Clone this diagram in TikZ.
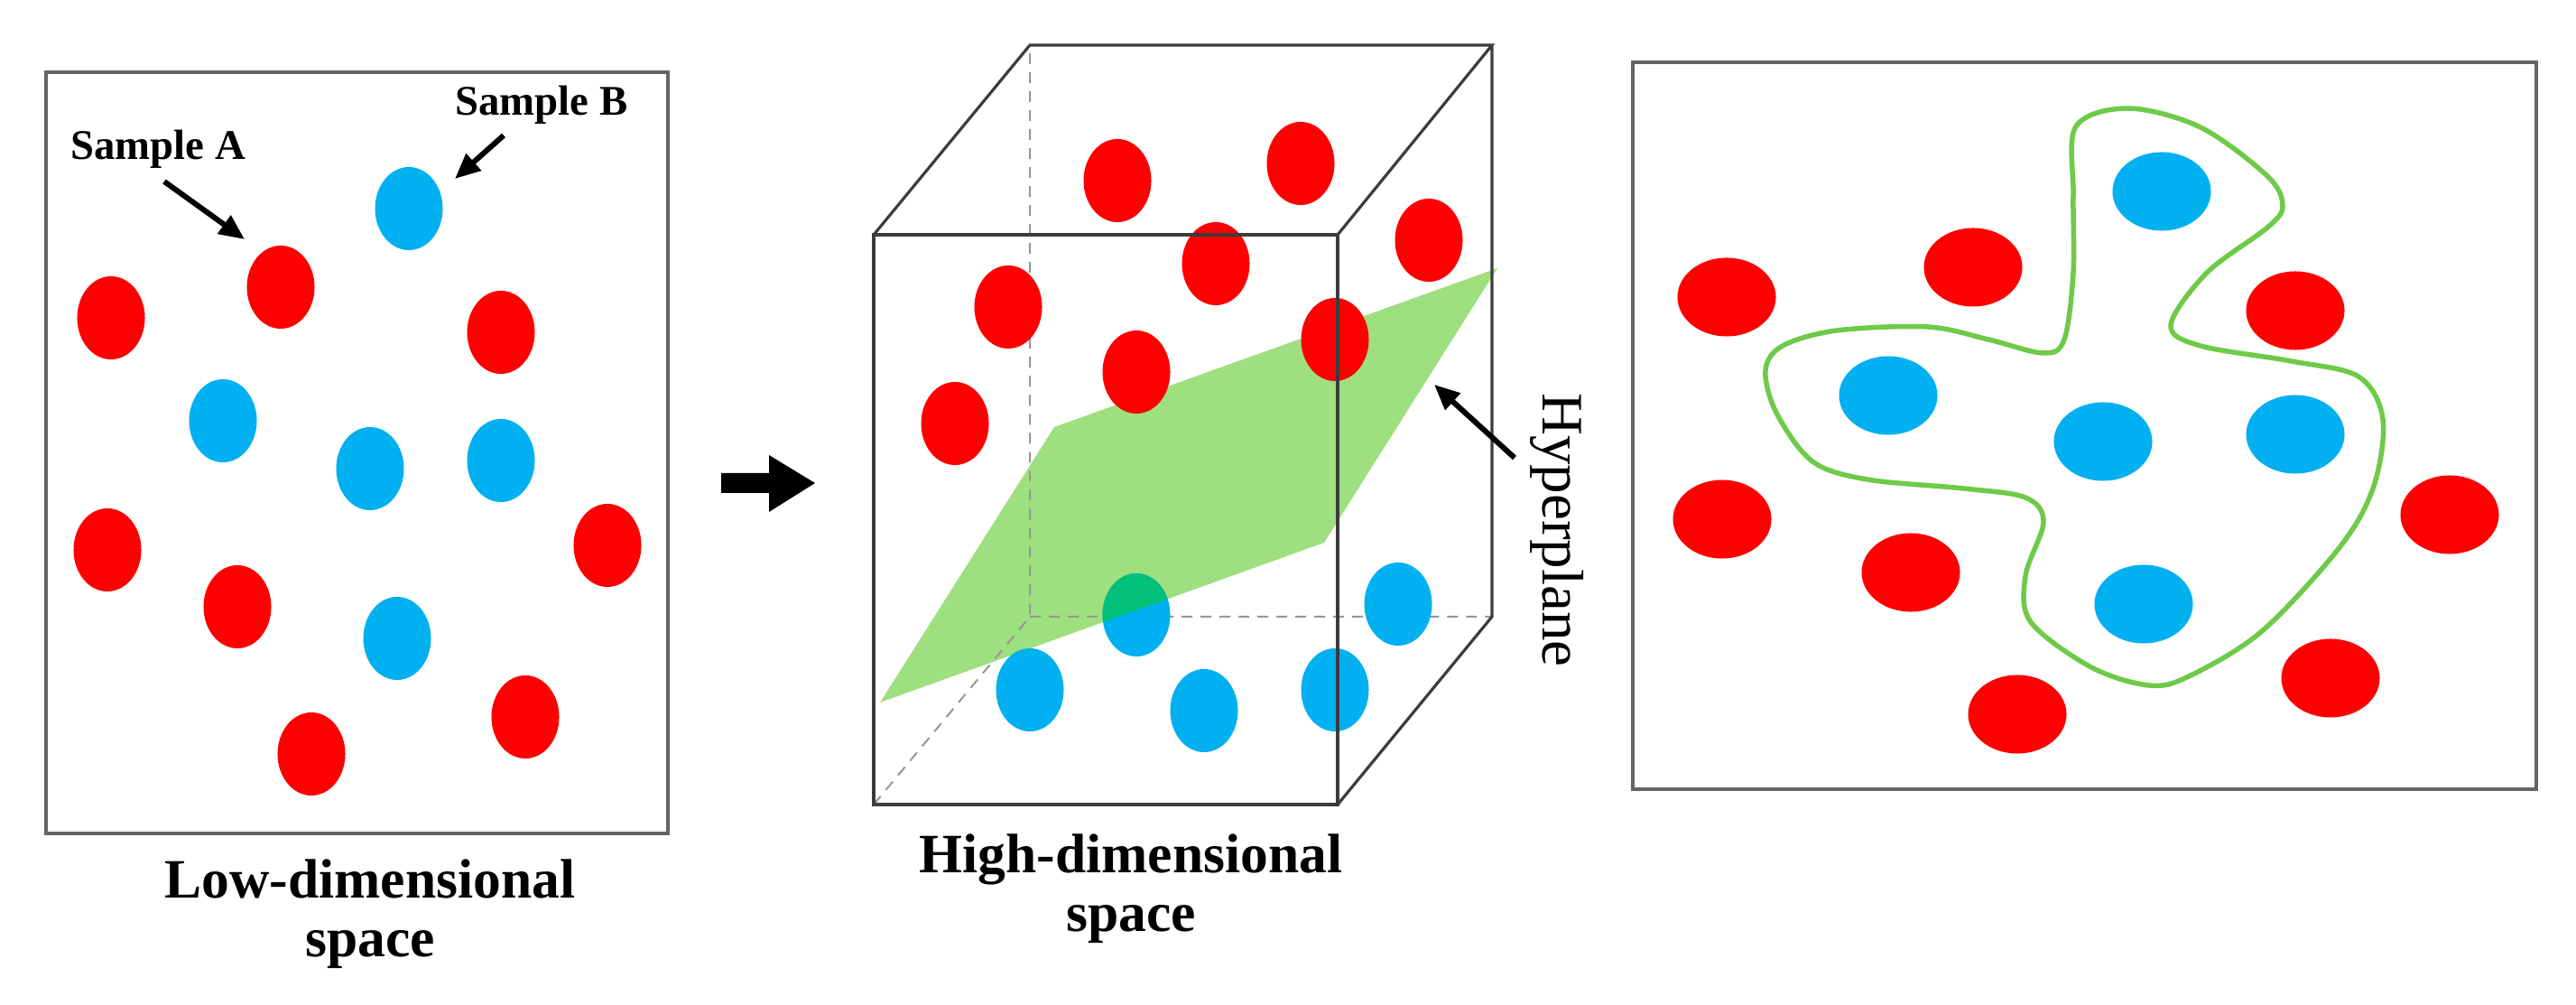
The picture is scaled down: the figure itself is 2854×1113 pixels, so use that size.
\documentclass[tikz,border=0pt]{standalone}
\usepackage{fontspec}
\setmainfont{Liberation Serif}
\usetikzlibrary{shapes.geometric,arrows.meta}

\definecolor{ptred}{RGB}{255,0,0}
\definecolor{ptblue}{RGB}{0,176,240}
\definecolor{planegreen}{RGB}{158,223,127}
\definecolor{overlapgreen}{RGB}{0,192,122}
\definecolor{curvegreen}{RGB}{110,202,72}
\definecolor{framegray}{RGB}{100,100,100}
\definecolor{edgegray}{RGB}{60,60,60}
\definecolor{hiddengray}{RGB}{150,150,150}

\tikzset{
  ptshape/.style={shape=ellipse,inner sep=0pt,minimum width=0.75cm,minimum height=0.92cm},
  redpt/.style={ptshape,fill=ptred},
  bluept/.style={ptshape,fill=ptblue},
  flatpt/.style={minimum width=1.09cm,minimum height=0.87cm},
  ptr/.style={-{Triangle[length=0.28cm,width=0.24cm]},line width=0.06cm},
  panelframe/.style={draw=framegray,line width=0.045cm},
  cubeedge/.style={draw=edgegray,line width=0.032cm},
  hiddenedge/.style={draw=hiddengray,line width=0.02cm,dash pattern=on 0.12cm off 0.09cm},
  spacelabel/.style={font=\bfseries\fontsize{17.5}{18.5}\selectfont,align=center,inner sep=0pt,anchor=north},
  samplelabel/.style={font=\bfseries\fontsize{13.3}{16}\selectfont,inner sep=0pt,anchor=base}
}

\begin{document}
\begin{tikzpicture}[x=0.01cm,y=-0.01cm]
\useasboundingbox (0,0) rectangle (2854,1113);

% low-dimensional space
\draw[panelframe] (51,80) rectangle (740,923);
\node[redpt] (la1) at (123,352) {};
\node[redpt] (la2) at (311,318) {};
\node[redpt] (la3) at (555,368) {};
\node[redpt] (la4) at (119,609) {};
\node[redpt] (la5) at (263,672) {};
\node[redpt] (la6) at (673,604) {};
\node[redpt] (la7) at (345,835) {};
\node[redpt] (la8) at (582,794) {};
\node[bluept] (lb1) at (453,231) {};
\node[bluept] (lb2) at (247,466) {};
\node[bluept] (lb3) at (410,519) {};
\node[bluept] (lb4) at (555,510) {};
\node[bluept] (lb5) at (440,707) {};
\node[samplelabel] (labA) at (175,177) {Sample A};
\node[samplelabel] (labB) at (600,128) {Sample B};
\coordinate (tailA) at (182,201);
\coordinate (tipA) at (271,265);
\coordinate (tailB) at (558,150);
\coordinate (tipB) at (504,198);
\draw[ptr] (tailA) -- (tipA);
\draw[ptr] (tailB) -- (tipB);
\node[spacelabel] (low) at (410,951) {Low-dimensional\\space};

\fill (799,524) -- (852,524) -- (852,504) -- (903,535) -- (852,567) -- (852,546) -- (799,546) -- cycle;

% high-dimensional space
\coordinate (f1) at (968,260);
\coordinate (f2) at (1482,260);
\coordinate (f3) at (1482,891);
\coordinate (f4) at (968,891);
\coordinate (b1) at (1141,50);
\coordinate (b2) at (1653,50);
\coordinate (b3) at (1653,683);
\coordinate (b4) at (1141,683);
\coordinate (p1) at (975,778);
\coordinate (p2) at (1168,473);
\coordinate (p3) at (1659,297);
\coordinate (p4) at (1467,601);
\fill[planegreen] (p1) -- (p2) -- (p3) -- (p4) -- cycle;
\draw[hiddenedge] (f4) -- (b4) -- (b1) (b4) -- (b3);
\node[bluept] (hb1) at (1259,681) {};
\node[bluept] (hb2) at (1549,669) {};
\node[bluept] (hb3) at (1141,764) {};
\node[bluept] (hb4) at (1334,787) {};
\node[bluept] (hb5) at (1479,764) {};
\begin{scope}
\clip (p1) -- (p2) -- (p3) -- (p4) -- cycle;
\fill[overlapgreen] (hb1.center) ellipse [x radius=0.375cm,y radius=0.46cm];
\end{scope}
\node[redpt] (ha1) at (1238,200) {};
\node[redpt] (ha2) at (1441,181) {};
\node[redpt] (ha3) at (1583,266) {};
\node[redpt] (ha4) at (1347,292) {};
\node[redpt] (ha5) at (1117,340) {};
\node[redpt] (ha6) at (1259,412) {};
\node[redpt] (ha7) at (1479,376) {};
\node[redpt] (ha8) at (1058,469) {};
\draw[cubeedge] (f1) rectangle (f3);
\draw[cubeedge] (f1) -- (b1) -- (b2) -- (f2) (b2) -- (b3) -- (f3);
\node[rotate=-90,font=\fontsize{18.5}{20}\selectfont,inner sep=0pt] (hyp) at (1725,587) {Hyperplane};
\coordinate (tailH) at (1678,507);
\coordinate (tipH) at (1589,426);
\draw[ptr] (tailH) -- (tipH);
\node[spacelabel] (high) at (1253,923) {High-dimensional\\space};

% nonlinear boundary
\draw[panelframe] (1809,69) rectangle (2810,874);
\node[redpt,flatpt] (ra1) at (1913,329) {};
\node[redpt,flatpt] (ra2) at (2186,296) {};
\node[redpt,flatpt] (ra3) at (2543,344) {};
\node[redpt,flatpt] (ra4) at (1908,575) {};
\node[redpt,flatpt] (ra5) at (2117,634) {};
\node[redpt,flatpt] (ra6) at (2714,570) {};
\node[redpt,flatpt] (ra7) at (2235,791) {};
\node[redpt,flatpt] (ra8) at (2582,751) {};
\node[bluept,flatpt] (rb1) at (2395,212) {};
\node[bluept,flatpt] (rb2) at (2092,438) {};
\node[bluept,flatpt] (rb3) at (2330,489) {};
\node[bluept,flatpt] (rb4) at (2543,481) {};
\node[bluept,flatpt] (rb5) at (2375,669) {};
\draw[curvegreen,line width=0.055cm] plot[smooth cycle,tension=0.55] coordinates {
  (2300,140) (2358,120) (2438,141) (2512,195) (2529,228) (2512,252) (2445,302)
  (2405,360) (2438,383) (2539,400) (2613,417) (2640,464) (2630,538) (2593,605)
  (2506,699) (2425,749) (2381,759) (2317,739) (2250,689) (2244,638) (2264,578)
  (2244,551) (2176,541) (2069,531) (2008,511) (1968,457) (1956,410) (1975,383)
  (2035,366) (2136,362) (2203,376) (2264,391) (2287,376) (2297,302) (2297,215)};
\end{tikzpicture}
\end{document}
